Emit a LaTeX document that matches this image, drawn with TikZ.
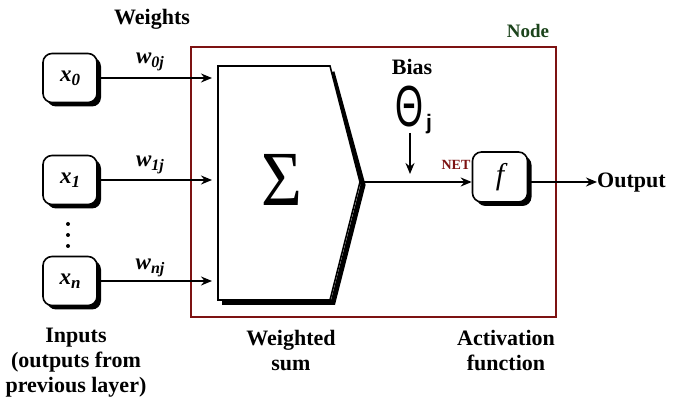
\documentclass[tikz,border=0pt]{standalone}
\usepackage{fontspec}
\setmainfont{Liberation Serif}
\newfontfamily\sansf{Liberation Sans}
\usetikzlibrary{arrows.meta,shadows}
\definecolor{boxred}{RGB}{125,18,18}
\definecolor{nodegreen}{RGB}{28,68,28}
\begin{document}
\begin{tikzpicture}[x=1pt,y=-1pt,
  lbl/.style={font=\fontsize{22}{25}\selectfont\bfseries, align=center, inner sep=0pt},
  inbox/.style={draw, line width=1.6pt, rounded corners=9pt, fill=white,
    minimum width=54pt, minimum height=49pt, inner sep=0pt,
    drop shadow={shadow xshift=4pt, shadow yshift=-4pt, fill=black, opacity=1}},
  conn/.style={line width=1.6pt, -{Stealth[length=11pt,width=9pt]}},
  wlab/.style={font=\fontsize{23}{23}\selectfont\bfseries\itshape, inner sep=0pt},
  xlab/.style={font=\fontsize{23}{23}\selectfont\bfseries\itshape},
  dotm/.style={fill=black, circle, inner sep=0pt, minimum size=4pt}
]
\useasboundingbox (0,0) rectangle (686,411);
\fill[white] (0,0) rectangle (686,411);

% container
\draw[boxred, line width=2.4pt] (191,47) rectangle (556,317);
\node[font=\fontsize{19}{19}\selectfont\bfseries, text=nodegreen] (nodelbl) at (528,31) {Node};

% inputs
\node[inbox, xlab] (x0) at (70,78) {x\raisebox{-0.35ex}{\fontsize{17}{17}\selectfont 0}};
\node[inbox, xlab] (x1) at (70,180) {x\raisebox{-0.35ex}{\fontsize{17}{17}\selectfont 1}};
\node[inbox, xlab] (xn) at (70,281) {x\raisebox{-0.35ex}{\fontsize{17}{17}\selectfont n}};
\node[dotm] (d1) at (68,224) {};
\node[dotm] (d2) at (68,235) {};
\node[dotm] (d3) at (68,246) {};

% weighted sum shape
\draw[line width=5pt, line join=miter] (332,72) -- (363,185) -- (333,302.5) -- (222,302.5);
\draw[line width=1.6pt, fill=white, line join=miter] (218,66) -- (330,66) -- (360,182) -- (330,300) -- (218,300) -- cycle;
\coordinate (tip) at (360,182);
\coordinate (sl) at (212,0);
\node[font=\fontsize{78}{78}\selectfont, xscale=0.9] (sum) at (282,180) {Σ};

% connectors from inputs
\draw[conn] (x0.east) -- (x0 -| sl);
\draw[conn] (x1.east) -- (x1 -| sl);
\draw[conn] (xn.east) -- (xn -| sl);
\node[wlab] (w0) at (150,62) {w\raisebox{-0.45ex}{\fontsize{16}{16}\selectfont 0j}};
\node[wlab] (w1) at (150,165) {w\raisebox{-0.45ex}{\fontsize{16}{16}\selectfont 1j}};
\node[wlab] (wn) at (150,268) {w\raisebox{-0.45ex}{\fontsize{16}{16}\selectfont nj}};
\node[lbl] (weights) at (152,19) {Weights};

% bias
\node[lbl] (bias) at (412,67) {Bias};
\node[inner sep=0pt] (theta) at (409,107) {\sansf\fontsize{58}{58}\selectfont\scalebox{0.62}[1]{Θ}};
\node[inner sep=0pt, font=\sansf\fontsize{21}{21}\selectfont\bfseries] (jsub) at (429,124) {j};
\coordinate (bt) at (410,133);
\coordinate (bb) at (410,174);
\draw[conn] (bt) -- (bb);

% activation
\node[inbox, minimum width=55pt, minimum height=50pt, font=\fontsize{30}{30}\selectfont\itshape] (f) at (500,177) {f};
\draw[conn] (tip) -- (tip -| f.west);
\node[font=\fontsize{14}{14}\selectfont\bfseries, text=boxred, inner sep=0pt] (net) at (456,165) {NET};
\node[lbl, anchor=west] (out) at (597,183) {Output};
\draw[conn] (tip -| f.east) -- (tip -| out.west);

% bottom labels
\node[lbl] (inputs) at (76,363) {Inputs\\(outputs from\\previous layer)};
\node[lbl] (wsum) at (291,351) {Weighted\\sum};
\node[lbl] (act) at (506,351) {Activation\\function};
\end{tikzpicture}
\end{document}
